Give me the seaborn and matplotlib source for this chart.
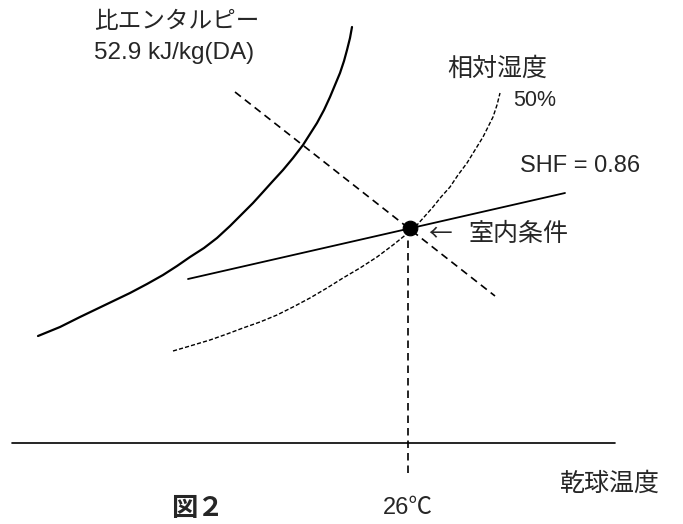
import matplotlib
matplotlib.use("Agg")
import matplotlib.pyplot as plt
import seaborn as sns
import pandas as pd

sns.set_theme(style="white")
plt.rcParams['font.family'] = ['Liberation Sans', 'Noto Sans CJK JP', 'DejaVu Sans']

# Schematic psychrometric chart, drawn in a 683 x 524 canvas coordinate frame
# Specific enthalpy curve (solid)
enth_x = [38, 60, 80, 105, 130, 147, 163, 177, 190, 204, 217, 230, 243, 253, 263,
          272, 283, 293, 303, 310, 317, 324, 330, 335, 340, 344, 347, 350, 352]
enth_y = [336, 327, 317, 305, 293, 284, 275, 266, 257, 248, 238, 226, 213, 203, 192,
          182, 170, 158, 145, 134, 123, 110, 97, 85, 73, 61, 50, 38, 27]

# Relative humidity 50% curve (fine dashes)
rh_x = [173, 190, 210, 227, 243, 260, 277, 293, 310, 327, 343, 360, 377, 393, 408,
        417, 425, 433, 441, 450, 458, 467, 475, 483, 488, 493, 497, 500]
rh_y = [351, 346, 340, 334, 328, 322, 315, 307, 298, 288, 278, 268, 257, 245, 233,
        225, 216, 207, 197, 187, 175, 163, 150, 137, 127, 117, 105, 93]

# Sensible heat factor line
shf_x = [188, 565]
shf_y = [279, 193]

# Constant enthalpy line through room condition (dashed)
h_x = [235, 495]
h_y = [92, 296]

# Dry-bulb temperature drop line (dashed)
t_x = [408, 408]
t_y = [228, 475]

# Dry-bulb temperature axis
axis_x = [12, 615]
axis_y = [443, 443]

# Room condition point
room_x = [410]
room_y = [228]

fig = plt.figure(figsize=(6.83, 5.24), dpi=100)
ax = fig.add_axes([0, 0, 1, 1])

def draw(xs, ys, **kw):
    df = pd.DataFrame({"x": xs, "y": ys})
    sns.lineplot(data=df, x="x", y="y", sort=False, estimator=None, ax=ax,
                 color="black", solid_joinstyle="round", **kw)

draw(enth_x, enth_y, linewidth=1.6)
draw(rh_x, rh_y, linewidth=1.0, linestyle=(0, (3, 1.5)))
draw(shf_x, shf_y, linewidth=1.3)
draw(h_x, h_y, linewidth=1.2, linestyle=(0, (4.5, 3)))
draw(t_x, t_y, linewidth=1.2, linestyle=(0, (4.5, 3)))
draw(axis_x, axis_y, linewidth=1.2)
sns.scatterplot(x=room_x, y=room_y, ax=ax, color="black", s=110, zorder=5,
                edgecolor="black")

ax.set_xlim(0, 683)
ax.set_ylim(524, 0)
ax.axis("off")

ax.text(94, 22, "比エンタルピー", fontsize=17, va="center", ha="left")
ax.text(94, 53, "52.9 kJ/kg(DA)", fontsize=17.5, va="center", ha="left")
ax.text(447, 69, "相対湿度", fontsize=18, va="center", ha="left")
ax.text(513, 101, "50%", fontsize=15.5, va="center", ha="left")
ax.text(520, 166, "SHF = 0.86", fontsize=17, va="center", ha="left")
ax.text(428, 235, "←", fontsize=17, va="center", ha="left",
        family=['Noto Sans CJK JP'])
ax.text(469, 234, "室内条件", fontsize=18, va="center", ha="left")
ax.text(560, 484, "乾球温度", fontsize=18, va="center", ha="left")
ax.text(383, 508, "26℃", fontsize=17, va="center", ha="left")
ax.text(171, 508, "図２", fontsize=19, fontweight="bold", va="center", ha="left",
        family=['Noto Sans CJK JP'])

fig.savefig("out.png", dpi=100, facecolor="white")
